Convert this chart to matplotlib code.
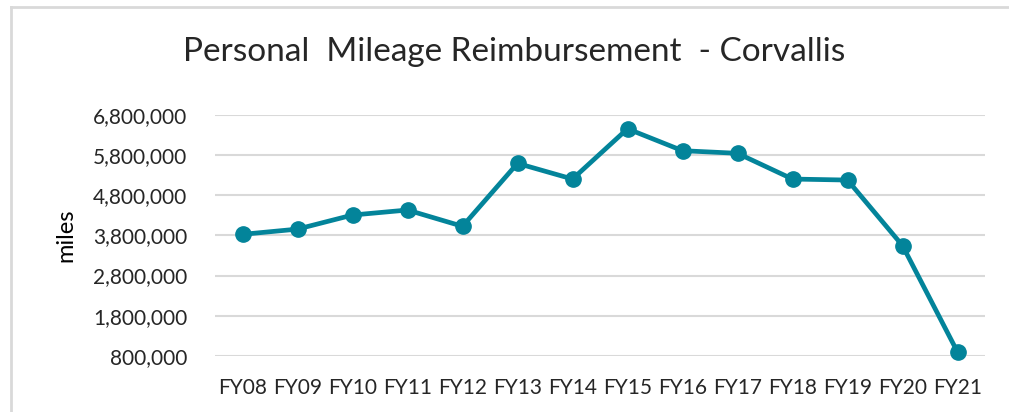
import matplotlib
matplotlib.use("Agg")
import matplotlib.pyplot as plt
from matplotlib.lines import Line2D
from matplotlib.ticker import FuncFormatter

# ============================================================
# DADOS
# ============================================================
years = ["FY08", "FY09", "FY10", "FY11", "FY12", "FY13", "FY14",
         "FY15", "FY16", "FY17", "FY18", "FY19", "FY20", "FY21"]
miles = [3825000, 3955000, 4305000, 4430000, 4025000, 5590000, 5200000,
         6450000, 5905000, 5840000, 5200000, 5175000, 3545000, 900000]
yticks = [800000, 1800000, 2800000, 3800000, 4800000, 5800000, 6800000]

TEAL = "#03849A"
GRID = "#D9D9D9"
TXT = "#262626"

plt.rcParams["font.family"] = ["Lato", "DejaVu Sans"]

# ============================================================
# PLOT
# ============================================================
fig = plt.figure(figsize=(10.09, 4.12), dpi=100)
ax = fig.add_axes([215 / 1009, 1 - 356 / 412, 770 / 1009, 241.3 / 412])

x = range(len(years))
ax.plot(x, miles, color=TEAL, lw=3.4, marker="o", ms=11, clip_on=False,
        zorder=3)

ax.set_xlim(-0.5, len(years) - 0.5)
ax.set_ylim(yticks[0], yticks[-1])
ax.set_yticks(yticks)
ax.yaxis.set_major_formatter(FuncFormatter(lambda v, p: f"{int(v):,}"))
ax.set_xticks(list(x))
ax.set_xticklabels(years)

ax.grid(axis="y", color=GRID, lw=1.5)
ax.set_axisbelow(True)
for s in ax.spines.values():
    s.set_visible(False)
ax.tick_params(length=0, labelsize=15, colors=TXT)
ax.tick_params(axis="y", pad=20)
ax.tick_params(axis="x", pad=16)

ax.set_ylabel("miles", fontsize=17, color="black", labelpad=12)

fig.text(514 / 1009, 1 - 52 / 412, "Personal  Mileage Reimbursement  - Corvallis",
         ha="center", va="center", fontsize=24, color=TXT)

# borda do gráfico (apenas topo e esquerda visíveis no recorte)
fig.add_artist(Line2D([11 / 1009, 1], [1 - 7 / 412, 1 - 7 / 412],
                      transform=fig.transFigure, color=GRID, lw=2))
fig.add_artist(Line2D([11 / 1009, 11 / 1009], [0, 1 - 7 / 412],
                      transform=fig.transFigure, color=GRID, lw=2))

fig.savefig("out.png", dpi=100)
plt.close(fig)
